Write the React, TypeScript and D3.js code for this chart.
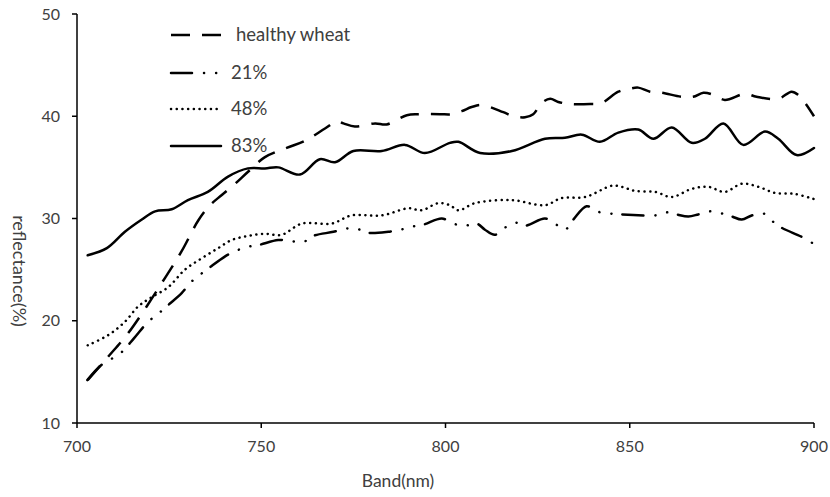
import * as d3 from "d3";

// spectra: [band nm, reflectance %]
const healthyWheat: [number, number][] = [
  [702.9, 14.2], [708.5, 16.5], [713.9, 18.8], [718.9, 21.4], [723.9, 24.2], [728.4, 26.8],
  [732.9, 29.8], [736.1, 31.3], [739.3, 32.3], [742.9, 33.4], [746.5, 34.6], [751, 36.0],
  [756.9, 36.9], [761.9, 37.6], [767.3, 38.8], [770.5, 39.5], [772.3, 39.3], [775.4, 39.0],
  [780.9, 39.3], [784, 39.2], [789.5, 40.1], [792.6, 40.2], [798.5, 40.2], [801.7, 40.2],
  [804.4, 40.5], [807.1, 40.9], [809.8, 41.1], [815.7, 40.4], [818.4, 40.0], [821.6, 39.9],
  [823.8, 40.2], [826.1, 41.3], [828.4, 41.7], [830.6, 41.4], [833.8, 41.2], [839.2, 41.2],
  [842.4, 41.3], [846.9, 42.4], [850.1, 42.7], [852.3, 42.8], [855.5, 42.4], [858.7, 42.3],
  [864.1, 41.9], [867.2, 41.9], [870, 42.3], [872.7, 42.1], [875.8, 41.6], [881.3, 42.2],
  [884.4, 41.9], [890.3, 41.7], [893.9, 42.4], [895.7, 42.1], [897.6, 41.3], [900, 40.0],
];

const infected21: [number, number][] = [
  [702.8, 14.2], [706.7, 15.7], [711.7, 16.8], [715.5, 18.3], [719.3, 19.9], [722.1, 20.7],
  [724.3, 21.4], [728.4, 22.7], [730.7, 23.7], [733, 24.4], [735.6, 25.1], [740.2, 26.3],
  [742.9, 26.8], [746, 27.2], [749.2, 27.4], [754.6, 27.9], [757.8, 27.8], [761.4, 27.7],
  [764.1, 28.3], [769.6, 28.7], [772.7, 29.0], [775.9, 29.0], [779, 28.6], [784.5, 28.7],
  [787.7, 28.9], [790.8, 29.2], [794, 29.4], [799, 30.0], [802.1, 29.5], [805.3, 29.3],
  [808.5, 29.5], [810.7, 28.9], [813.4, 28.4], [816.1, 29.1], [818.9, 29.6], [821.6, 29.3],
  [827, 30.0], [829.7, 29.5], [832.4, 28.9], [834.7, 29.9], [838.3, 31.2], [841, 30.7],
  [844.2, 30.5], [847.4, 30.4], [853.7, 30.3], [856.9, 30.3], [860, 30.6], [862.7, 30.4],
  [865.9, 30.2], [868.6, 30.4], [871.8, 30.7], [874.9, 30.5], [877.7, 30.2], [880.4, 29.9],
  [883.1, 30.3], [886.2, 30.5], [888.5, 29.8], [891.2, 29.1], [896.7, 28.2], [900, 27.5],
];

const infected48: [number, number][] = [
  [702.9, 17.6], [708.5, 18.6], [713, 19.9], [716.6, 21.4], [719.8, 22.2], [724.8, 23.3],
  [729.3, 25.0], [733.8, 26.1], [738.3, 27.1], [742, 27.9], [746.5, 28.3], [751, 28.5],
  [755.5, 28.4], [761, 29.5], [769.1, 29.5], [774.5, 30.3], [782.7, 30.3], [789.9, 31.0],
  [793.5, 30.8], [798, 31.5], [801.2, 31.3], [803.5, 30.8], [808, 31.5], [818, 31.8],
  [827, 31.3], [831.5, 32.0], [837.9, 32.1], [845.1, 33.2], [847.8, 33.1], [851.4, 32.7],
  [856.9, 32.6], [861.4, 32.1], [866.8, 32.9], [871.3, 33.1], [875.8, 32.6], [880.4, 33.4],
  [884.9, 33.1], [889.4, 32.5], [894.8, 32.4], [900, 31.9],
];

const infected83: [number, number][] = [
  [702.9, 26.4], [708.1, 27.1], [713, 28.7], [717.6, 29.9], [721.2, 30.7], [725.7, 30.9],
  [730.1, 31.8], [735.5, 32.6], [741, 34.1], [746.4, 34.9], [751, 34.9], [754.6, 35.0],
  [760.5, 34.3], [765.9, 35.8], [770, 35.5], [775, 36.6], [782.7, 36.6], [789, 37.2],
  [794.4, 36.4], [801.2, 37.4], [803.5, 37.5], [809.4, 36.4], [818, 36.6], [827, 37.8],
  [832.4, 37.9], [837, 38.2], [841.9, 37.5], [846.9, 38.4], [852.3, 38.7], [856.4, 37.8],
  [861.4, 38.9], [866.8, 37.4], [870.4, 37.8], [875.4, 39.3], [880.8, 37.2], [886.7, 38.5],
  [890.3, 37.8], [895.3, 36.2], [900, 36.9],
];

const xTicks = [700, 750, 800, 850, 900];
const yTicks = [10, 20, 30, 40, 50];

const seriesNames = ["healthy wheat", "21%", "48%", "83%"];
const seriesData = [healthyWheat, infected21, infected48, infected83];

// line styles, same order as the series
const dashes = ["19,12", "21,12,0.1,12,0.1,11", "0.1,5.6", null];
const caps = ["butt", "round", "round", "round"];

const textColor = "#404040";
const font = "Lato, 'Open Sans', sans-serif";

export default function App() {
  const x = d3.scaleLinear().domain([700, 900]).range([77, 814]);
  const y = d3.scaleLinear().domain([10, 50]).range([423, 14]);

  const line = d3
    .line<[number, number]>()
    .x((d) => x(d[0]))
    .y((d) => y(d[1]))
    .curve(d3.curveCatmullRom.alpha(0.5));

  const legendX = 171;
  const legendY = [35, 73, 109, 146];

  return (
    <svg
      width={830}
      height={497}
      style={{ position: "absolute", left: 0, top: 0, background: "#fff" }}
      fontFamily={font}
    >
      {/* series */}
      {seriesData.map((d, i) => (
        <path
          key={seriesNames[i]}
          d={line(d) ?? ""}
          fill="none"
          stroke="#000"
          strokeWidth={2.5}
          strokeDasharray={dashes[i] ?? undefined}
          strokeLinecap={caps[i] as any}
        />
      ))}

      {/* y axis */}
      <line x1={x(700)} x2={x(700)} y1={y(50)} y2={y(10)} stroke="#000" strokeWidth={1.5} />
      {yTicks.map((t) => (
        <g key={t}>
          <line x1={x(700) - 5} x2={x(700)} y1={y(t)} y2={y(t)} stroke="#000" strokeWidth={1.5} />
          <text x={60} y={y(t)} dy="0.35em" textAnchor="end" fontSize={16} fill={textColor}>
            {t}
          </text>
        </g>
      ))}

      {/* x axis */}
      <line x1={x(700)} x2={x(900)} y1={y(10)} y2={y(10)} stroke="#000" strokeWidth={1.5} />
      {xTicks.map((t) => (
        <g key={t}>
          <line x1={x(t)} x2={x(t)} y1={y(10)} y2={y(10) + 5} stroke="#000" strokeWidth={1.5} />
          <text x={x(t)} y={452} textAnchor="middle" fontSize={16} fill={textColor}>
            {t}
          </text>
        </g>
      ))}

      <text x={398} y={487} textAnchor="middle" fontSize={17.5} fill={textColor}>
        Band(nm)
      </text>
      <text
        transform={`translate(13,271) rotate(90)`}
        textAnchor="middle"
        fontSize={18}
        fill={textColor}
      >
        reflectance(%)
      </text>

      {/* legend */}
      {seriesNames.map((name, i) => (
        <g key={name}>
          <line
            x1={legendX}
            x2={legendX + 50}
            y1={legendY[i]}
            y2={legendY[i]}
            stroke="#000"
            strokeWidth={2.5}
            strokeDasharray={dashes[i] ?? undefined}
            strokeLinecap={caps[i] as any}
          />
          <text x={i === 0 ? 236 : 231} y={legendY[i]} dy="0.35em" fontSize={18.5} fill={textColor}>
            {name}
          </text>
        </g>
      ))}
    </svg>
  );
}
